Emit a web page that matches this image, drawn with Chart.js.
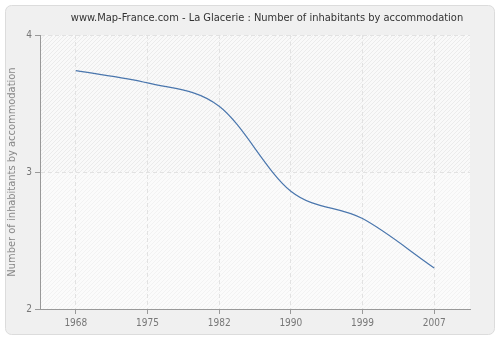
<!DOCTYPE html>
<html>
<head>
<meta charset="utf-8">
<script src="https://cdn.jsdelivr.net/npm/chart.js@4/dist/chart.umd.min.js"></script>
<style>
  html, body { margin: 0; padding: 0; background: #ffffff; }
  #wrap { width: 500px; height: 340px; position: relative; }
</style>
</head>
<body>
<div id="wrap"><canvas id="chart" width="500" height="340"></canvas></div>
<script>
const TITLE = "www.Map-France.com - La Glacerie : Number of inhabitants by accommodation";
const Y_TITLE = "Number of inhabitants by accommodation";
const years = ["1968", "1975", "1982", "1990", "1999", "2007"];
const inhabitants = [3.74, 3.65, 3.48, 2.86, 2.66, 2.30];
const yTicks = [2, 3, 4];

const FONT = "'DejaVu Sans Condensed', 'DejaVu Sans', sans-serif";

function hatch(color, bg, step) {
    const c = document.createElement("canvas");
    c.width = step;
    c.height = step;
    const g = c.getContext("2d");
    g.fillStyle = bg;
    g.fillRect(0, 0, step, step);
    g.strokeStyle = color;
    g.lineWidth = 1;
    g.beginPath();
    g.moveTo(0, step);
    g.lineTo(step, 0);
    g.moveTo(-step, step);
    g.lineTo(step, -step);
    g.moveTo(0, 2 * step);
    g.lineTo(2 * step, 0);
    g.stroke();
    return g.createPattern(c, "repeat");
}

// panel background, hatched plot bands and the title
const backdrop = {
    id: "backdrop",
    beforeDraw(chart) {
        const ctx = chart.ctx;
        const a = chart.chartArea;
        const y = chart.scales.y;
        ctx.save();
        ctx.fillStyle = "#ffffff";
        ctx.fillRect(0, 0, chart.width, chart.height);
        ctx.beginPath();
        ctx.roundRect(5.5, 5.5, 489, 329, 6);
        ctx.fillStyle = "#f0f0f0";
        ctx.fill();
        ctx.strokeStyle = "#dcdcdc";
        ctx.lineWidth = 1;
        ctx.stroke();

        const mid = y.getPixelForValue(3);
        ctx.fillStyle = hatch("#ebebeb", "#f9f9f9", 4);
        ctx.fillRect(a.left, a.top, a.right - a.left, mid - a.top);
        ctx.fillStyle = hatch("#f2f2f2", "#fbfbfb", 4);
        ctx.fillRect(a.left, mid, a.right - a.left, a.bottom - mid);

        ctx.fillStyle = "#333333";
        ctx.font = "11px " + FONT;
        ctx.textAlign = "center";
        ctx.textBaseline = "middle";
        ctx.fillText(TITLE, 267, 18);
        ctx.restore();
    }
};

new Chart(document.getElementById("chart"), {
    type: "line",
    data: {
        labels: years,
        datasets: [{
            data: inhabitants,
            borderColor: "#4a76ad",
            borderWidth: 1.2,
            pointRadius: 0,
            cubicInterpolationMode: "monotone",
            fill: false
        }]
    },
    options: {
        responsive: false,
        animation: false,
        devicePixelRatio: 1,
        layout: { padding: { left: 0, right: 30, top: 35, bottom: 0 } },
        plugins: { legend: { display: false }, title: { display: false }, tooltip: { enabled: false } },
        scales: {
            x: {
                offset: true,
                grid: {
                    offset: false,
                    color: "#e2e2e2",
                    tickColor: "#999999",
                    tickLength: 5
                },
                border: { color: "#999999", dash: [4, 3] },
                ticks: { color: "#777777", font: { family: FONT, size: 10 }, padding: 3 },
                afterFit(scale) { scale.height = 31; }
            },
            y: {
                min: 2,
                max: 4,
                afterBuildTicks(scale) { scale.ticks = yTicks.map(v => ({ value: v })); },
                grid: { color: "#e2e2e2", tickColor: "#999999", tickLength: 5 },
                border: { color: "#999999", dash: [4, 3] },
                ticks: { color: "#777777", font: { family: FONT, size: 10 }, padding: 3 },
                title: {
                    display: true,
                    text: Y_TITLE,
                    color: "#888888",
                    font: { family: FONT, size: 11 },
                    padding: { top: 6, bottom: 0 }
                },
                afterFit(scale) { scale.width = 40; }
            }
        }
    },
    plugins: [backdrop]
});
</script>
</body>
</html>
